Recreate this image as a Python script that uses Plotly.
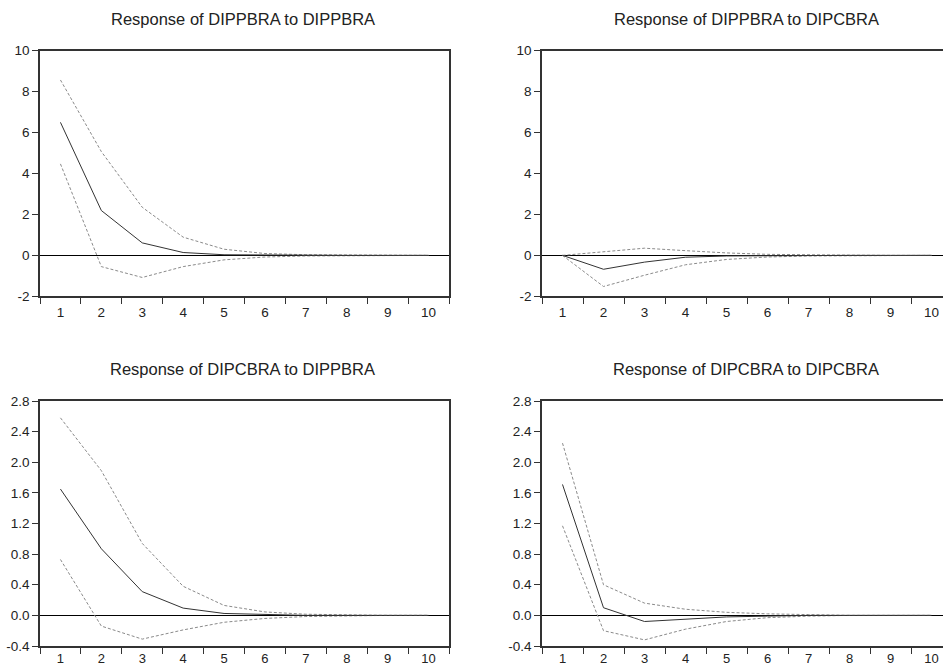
import plotly.graph_objects as go

periods = ["1", "2", "3", "4", "5", "6", "7", "8", "9", "10"]

# y-axis tick values / labels
top_ticks = [-2, 0, 2, 4, 6, 8, 10]
top_labels = ["-2", "0", "2", "4", "6", "8", "10"]
bot_ticks = [-0.4, 0.0, 0.4, 0.8, 1.2, 1.6, 2.0, 2.4, 2.8]
bot_labels = ["-0.4", "0.0", "0.4", "0.8", "1.2", "1.6", "2.0", "2.4", "2.8"]

# Response of DIPPBRA to DIPPBRA
pp_resp = [6.50, 2.19, 0.61, 0.14, 0.03, 0.01, 0.0, 0.0, 0.0, 0.0]
pp_up = [8.57, 5.07, 2.35, 0.89, 0.30, 0.09, 0.03, 0.01, 0.0, 0.0]
pp_lo = [4.47, -0.55, -1.08, -0.55, -0.22, -0.08, -0.03, -0.01, 0.0, 0.0]

# Response of DIPPBRA to DIPCBRA
pc_resp = [0.0, -0.68, -0.33, -0.09, -0.03, -0.01, 0.0, 0.0, 0.0, 0.0]
pc_up = [0.0, 0.16, 0.35, 0.23, 0.12, 0.05, 0.02, 0.01, 0.0, 0.0]
pc_lo = [0.0, -1.52, -0.97, -0.46, -0.20, -0.08, -0.03, -0.01, 0.0, 0.0]

# Response of DIPCBRA to DIPPBRA
cp_resp = [1.65, 0.87, 0.31, 0.095, 0.025, 0.01, 0.0, 0.0, 0.0, 0.0]
cp_up = [2.58, 1.89, 0.94, 0.38, 0.13, 0.045, 0.015, 0.005, 0.0, 0.0]
cp_lo = [0.73, -0.14, -0.31, -0.19, -0.09, -0.04, -0.015, -0.005, 0.0, 0.0]

# Response of DIPCBRA to DIPCBRA
cc_resp = [1.71, 0.10, -0.08, -0.05, -0.02, -0.01, 0.0, 0.0, 0.0, 0.0]
cc_up = [2.25, 0.40, 0.16, 0.08, 0.04, 0.02, 0.01, 0.0, 0.0, 0.0]
cc_lo = [1.17, -0.20, -0.32, -0.18, -0.08, -0.03, -0.01, 0.0, 0.0, 0.0]

titles = ["Response of DIPPBRA to DIPPBRA", "Response of DIPPBRA to DIPCBRA",
          "Response of DIPCBRA to DIPPBRA", "Response of DIPCBRA to DIPCBRA"]

panels = [
    (pp_resp, pp_up, pp_lo, "x", "y"),
    (pc_resp, pc_up, pc_lo, "x2", "y2"),
    (cp_resp, cp_up, cp_lo, "x3", "y3"),
    (cc_resp, cc_up, cc_lo, "x4", "y4"),
]

FONT = "Liberation Sans, Arial, sans-serif"
fig = go.Figure()
for resp, up, lo, xa, ya in panels:
    for series, dash, color in [(up, True, "#8a8a8a"), (lo, True, "#8a8a8a"), (resp, False, "#333333")]:
        fig.add_trace(go.Scatter(x=periods, y=series, mode="lines", xaxis=xa, yaxis=ya,
                                 line=dict(color=color, width=1, dash="3px,2px" if dash else "solid"),
                                 showlegend=False, hoverinfo="skip"))

W, H = 943, 667
left_dom = [40 / W, 449 / W]
right_dom = [542 / W, 1.0]
top_dom = [1 - 296.3 / H, 1 - 50.7 / H]
bot_dom = [1 - 646 / H, 1 - 401 / H]

def xaxis(domain, anchor, rng, standoff, fsize):
    return dict(domain=domain, anchor=anchor, type="category", range=rng, automargin=False,
                tickson="boundaries", ticks="outside", ticklen=6, tickcolor="#333",
                tickwidth=1.3, showline=True, mirror=True, linecolor="#333", linewidth=1.5,
                showgrid=False, zeroline=False, ticklabelstandoff=standoff,
                tickfont=dict(family=FONT, size=fsize, color="#222"), fixedrange=True)

def yaxis(domain, anchor, rng, tv, tt, mirror):
    return dict(domain=domain, anchor=anchor, range=rng, automargin=False,
                tickmode="array", tickvals=tv, ticktext=tt,
                ticks="outside", ticklen=6, tickcolor="#333", tickwidth=1.3,
                showline=True, mirror=mirror, linecolor="#333", linewidth=1.5,
                showgrid=False, zeroline=True, zerolinecolor="#000", zerolinewidth=1,
                tickfont=dict(family=FONT, size=13.5, color="#222"), fixedrange=True)

fig.update_layout(
    width=W, height=H, margin=dict(l=0, r=0, t=0, b=0, autoexpand=False),
    paper_bgcolor="white", plot_bgcolor="white",
    xaxis=xaxis(left_dom, "y", [-0.5, 9.5], 3, 13.5),
    xaxis2=xaxis(right_dom, "y2", [-0.5, 9.28], 3, 13.5),
    xaxis3=xaxis(left_dom, "y3", [-0.5, 9.5], 0, 13),
    xaxis4=xaxis(right_dom, "y4", [-0.5, 9.28], 0, 13),
    yaxis=yaxis(top_dom, "x", [-2, 10], top_ticks, top_labels, True),
    yaxis2=yaxis(top_dom, "x2", [-2, 10], top_ticks, top_labels, False),
    yaxis3=yaxis(bot_dom, "x3", [-0.4, 2.8], bot_ticks, bot_labels, True),
    yaxis4=yaxis(bot_dom, "x4", [-0.4, 2.8], bot_ticks, bot_labels, False),
)

title_pos = [(243, 19), (746, 19), (243, 369), (746, 369)]
for t, (px, py) in zip(titles, title_pos):
    fig.add_annotation(text=t, x=px / W, y=1 - py / H, xref="paper", yref="paper",
                       showarrow=False, xanchor="center", yanchor="middle",
                       font=dict(family=FONT, size=16.5, color="#222"))

fig.write_html(
    "out.html",
    config={"displayModeBar": False},
    post_script=(
        "var s=document.createElement('style');"
        "s.textContent='html,body{margin:0;padding:0;overflow:hidden;height:667px;}"
        ".plotly-graph-div{display:block;margin:0;}';"
        "document.head.appendChild(s);"
    ),
)
